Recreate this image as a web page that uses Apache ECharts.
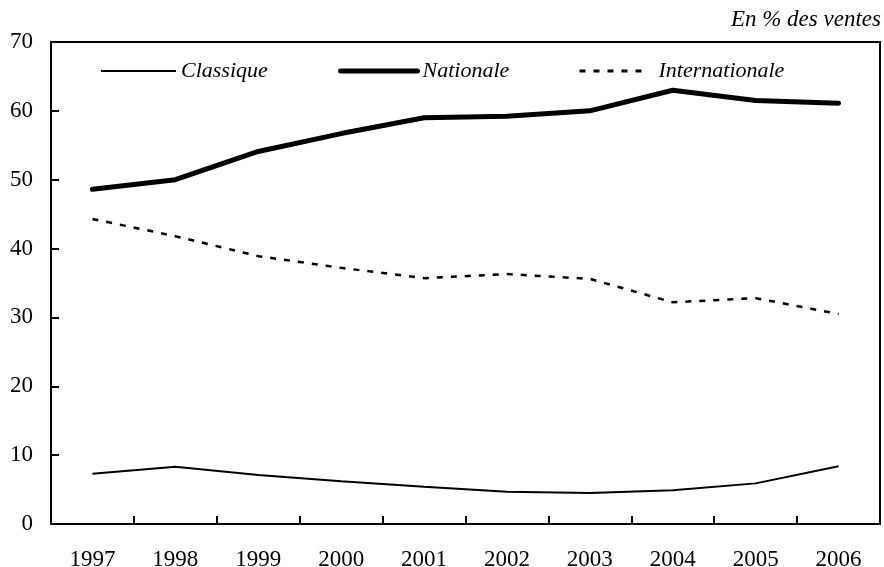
<!DOCTYPE html>
<html>
<head>
<meta charset="utf-8">
<script src="https://cdn.jsdelivr.net/npm/echarts@6/dist/echarts.min.js"></script>
<style>
  html, body { margin: 0; padding: 0; background: #fff; }
  #chart { width: 884px; height: 567px; }
</style>
</head>
<body>
<div id="chart"></div>
<script>
var years = ['1997', '1998', '1999', '2000', '2001', '2002', '2003', '2004', '2005', '2006']
var classique = [7.3, 8.3, 7.1, 6.2, 5.4, 4.7, 4.5, 4.9, 5.9, 8.4]
var nationale = [48.6, 50.0, 54.1, 56.7, 59.0, 59.2, 60.0, 63.0, 61.5, 61.1]
var internationale = [44.3, 41.8, 38.9, 37.2, 35.7, 36.3, 35.6, 32.2, 32.8, 30.5]

var serif = '"Liberation Serif", "Times New Roman", serif'
var chart = echarts.init(document.getElementById('chart'))

// one legend per series so each entry sits where the original has it
function legendAt (name, left, width, lineWidth, pad) {
  return {
    data: [name],
    left: left,
    top: 60,
    padding: 0,
    itemWidth: width,
    itemHeight: 14,
    itemStyle: { opacity: 0 },
    lineStyle: { width: lineWidth },
    textStyle: {
      fontFamily: serif,
      fontStyle: 'italic',
      fontSize: 22,
      color: '#000',
      padding: [0, 0, 0, pad]
    }
  }
}

var option = {
  animation: false,
  backgroundColor: '#fff',
  title: {
    text: 'En % des ventes',
    right: 3,
    top: 8,
    padding: 0,
    textStyle: {
      fontFamily: serif,
      fontStyle: 'italic',
      fontWeight: 'normal',
      fontSize: 23,
      color: '#000'
    }
  },
  legend: [
    legendAt('Classique', 100, 75, 2, 0),
    legendAt('Nationale', 338, 77, 5, 0),
    legendAt('Internationale', 578, 67, 3, 7)
  ],
  grid: {
    left: 51,
    right: 4,
    top: 42,
    bottom: 43,
    outerBoundsMode: 'none',
    containLabel: false,
    show: true,
    borderColor: '#000',
    borderWidth: 2
  },
  xAxis: {
    type: 'category',
    data: years,
    boundaryGap: true,
    axisLine: { show: true, lineStyle: { color: '#000', width: 2 } },
    axisTick: { show: true, inside: true, alignWithLabel: false, interval: 0, length: 8, lineStyle: { color: '#000', width: 2 } },
    axisLabel: { color: '#000', fontFamily: serif, fontSize: 23, margin: 24 },
    splitLine: { show: false }
  },
  yAxis: {
    type: 'value',
    min: 0,
    max: 70,
    interval: 10,
    axisLine: { show: true, lineStyle: { color: '#000', width: 2 } },
    axisTick: { show: true, inside: true, length: 8, lineStyle: { color: '#000', width: 2 } },
    axisLabel: { color: '#000', fontFamily: serif, fontSize: 23, margin: 18 },
    splitLine: { show: false }
  },
  series: [
    {
      name: 'Classique',
      type: 'line',
      data: classique,
      symbol: 'none',
      lineStyle: { color: '#000', width: 2 },
      itemStyle: { color: '#000' }
    },
    {
      name: 'Nationale',
      type: 'line',
      data: nationale,
      symbol: 'none',
      lineStyle: { color: '#000', width: 5, cap: 'round', join: 'round' },
      itemStyle: { color: '#000' }
    },
    {
      name: 'Internationale',
      type: 'line',
      data: internationale,
      symbol: 'none',
      lineStyle: { color: '#000', width: 2.5, type: [6, 8] },
      itemStyle: { color: '#000' }
    }
  ]
}

chart.setOption(option)
</script>
</body>
</html>
